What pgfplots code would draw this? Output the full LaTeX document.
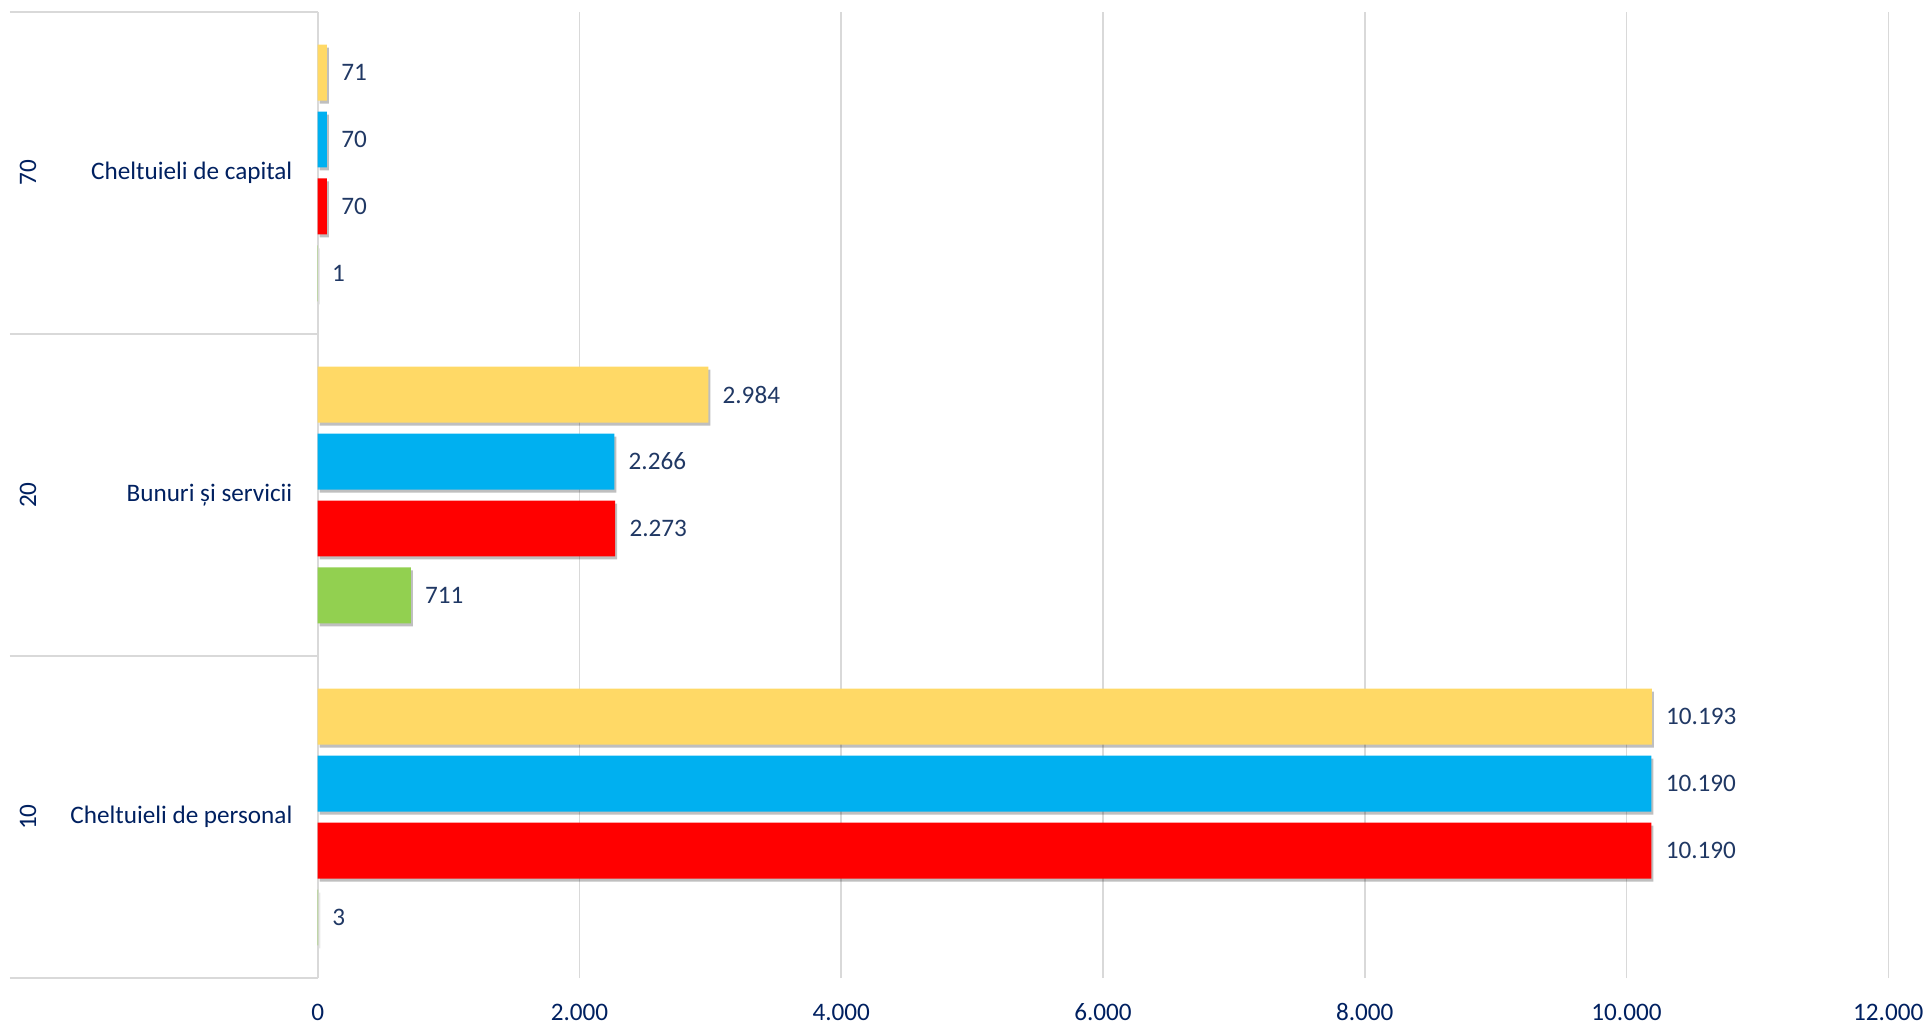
\documentclass[border=0pt]{standalone}
\usepackage{fontspec}
\setmainfont{Carlito}
\usepackage{pgfplots}
\pgfplotsset{compat=1.18}
\usetikzlibrary{shadows}
\definecolor{cy}{HTML}{FFD966}
\definecolor{cb}{HTML}{00B0F0}
\definecolor{cr}{HTML}{FF0000}
\definecolor{cg}{HTML}{92D050}
\definecolor{navy}{HTML}{002060}
\definecolor{valc}{HTML}{203864}
\definecolor{gridc}{HTML}{D9D9D9}
\tikzset{barshadow/.style={drop shadow={shadow xshift=1pt, shadow yshift=-1.5pt, opacity=0.25, fill=black}}}
\newcommand{\lblfont}{\fontsize{12.6}{15}\selectfont}
\begin{document}
\begin{tikzpicture}
\begin{axis}[
  scale only axis, width=786pt, height=483.5pt,
  xmin=0, xmax=12000, ymin=-0.5, ymax=2.5,
  xbar, bar width=28pt,
  xtick={0,2000,4000,6000,8000,10000,12000},
  scaled x ticks=false,
  ytick=\empty,
  xmajorgrids, major grid style={gridc, line width=0.75pt},
  axis lines*=left,
  x axis line style={draw=none},
  y axis line style={gridc, line width=1pt},
  major tick length=0pt,
  /pgf/number format/1000 sep={.},
  /pgf/number format/assume math mode=true,
  xticklabel style={font=\lblfont, text=navy, anchor=center, yshift=-17pt},
  nodes near coords, point meta=x,
  nodes near coords style={font=\lblfont, text=valc, anchor=west, inner sep=0pt, xshift=7pt},
  clip=false,
]
\addplot[fill=cg, draw=none, bar shift=-50.25pt, barshadow] coordinates {(3,0) (711,1) (1,2)};
\addplot[fill=cr, draw=none, bar shift=-16.75pt, barshadow] coordinates {(10190,0) (2273,1) (70,2)};
\addplot[fill=cb, draw=none, bar shift=16.75pt, barshadow] coordinates {(10190,0) (2266,1) (70,2)};
\addplot[fill=cy, draw=none, bar shift=50.25pt, barshadow] coordinates {(10193,0) (2984,1) (71,2)};
\draw[gridc, line width=1pt] ([xshift=-154pt]axis cs:0,-0.5) -- (axis cs:0,-0.5);
\draw[gridc, line width=1pt] ([xshift=-154pt]axis cs:0,0.5) -- (axis cs:0,0.5);
\draw[gridc, line width=1pt] ([xshift=-154pt]axis cs:0,1.5) -- (axis cs:0,1.5);
\draw[gridc, line width=1pt] ([xshift=-154pt]axis cs:0,2.5) -- (axis cs:0,2.5);
\node[rotate=90, font=\lblfont, text=navy] at ([xshift=-145pt]axis cs:0,0) {10};
\node[rotate=90, font=\lblfont, text=navy] at ([xshift=-145pt]axis cs:0,1) {20};
\node[rotate=90, font=\lblfont, text=navy] at ([xshift=-145pt]axis cs:0,2) {70};
\node[anchor=east, font=\lblfont, text=navy, inner sep=0pt] at ([xshift=-12.5pt]axis cs:0,0) {Cheltuieli de personal};
\node[anchor=east, font=\lblfont, text=navy, inner sep=0pt] at ([xshift=-12.5pt]axis cs:0,1) {Bunuri și servicii};
\node[anchor=east, font=\lblfont, text=navy, inner sep=0pt] at ([xshift=-12.5pt]axis cs:0,2) {Cheltuieli de capital};
\path ([xshift=-159pt,yshift=-23.5pt]rel axis cs:0,0) rectangle ([xshift=20pt,yshift=6pt]rel axis cs:1,1);
\end{axis}
\end{tikzpicture}
\end{document}
